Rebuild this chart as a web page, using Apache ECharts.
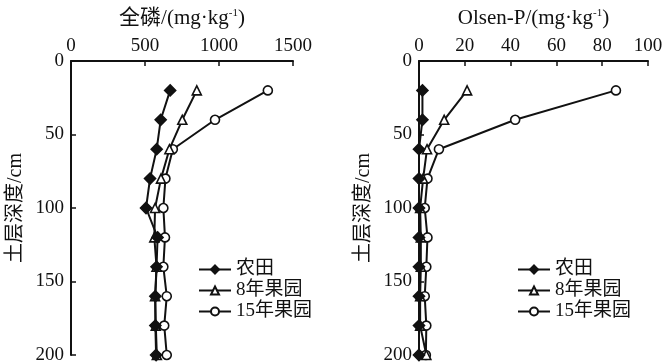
<!DOCTYPE html>
<html>
<head>
<meta charset="utf-8">
<script src="https://cdn.jsdelivr.net/npm/echarts@6/dist/echarts.min.js"></script>
<style>
  html, body { margin: 0; padding: 0; background: #fff; }
  #main { width: 664px; height: 364px; }
</style>
</head>
<body>
<div id="main"></div>
<script>
// soil depth (cm)
var depths = [20, 40, 60, 80, 100, 120, 140, 160, 180, 200];
var seriesNames = ["农田", "8年果园", "15年果园"];

// total P (mg/kg)
var totalP_farm = [670, 606, 579, 534, 507, 585, 578, 570, 570, 575];
var totalP_8yr = [850, 752, 665, 608, 568, 563, 578, 568, 573, 580];
var totalP_15yr = [1330, 973, 688, 638, 624, 635, 624, 647, 630, 647];

// Olsen-P (mg/kg)
var olsen_farm = [1.5, 1.5, 0, 0, 0, 0, 0, 0, 0, 0];
var olsen_8yr = [21, 11, 3.5, 1.8, 0.5, 0.8, 0.8, 0.5, 0.5, 3.2];
var olsen_15yr = [86, 42, 8.7, 3.7, 2.5, 3.7, 3.2, 2.5, 3.2, 3.0];

var font = "Liberation Serif, 'Noto Sans CJK SC'";
var ink = "#111";

function pairs(vals) {
  return vals.map(function (v, i) { return [v, depths[i]]; });
}

var markers = [
  { symbol: "diamond", size: 11, fill: ink },
  { symbol: "triangle", size: 9, fill: "#fff" },
  { symbol: "circle", size: 9, fill: "#fff" },
];

function mkSeries(vals, k, idx) {
  return {
    name: seriesNames[k],
    type: "line",
    xAxisIndex: idx,
    yAxisIndex: idx,
    data: pairs(vals),
    symbol: markers[k].symbol,
    symbolSize: markers[k].size,
    lineStyle: { color: ink, width: 2 },
    itemStyle: { color: markers[k].fill, borderColor: ink, borderWidth: 1.6 },
    z: 3 - k,
    animation: false,
  };
}

function xAxis(idx, name, max, interval) {
  return {
    gridIndex: idx,
    type: "value",
    position: "top",
    min: 0,
    max: max,
    interval: interval,
    name: name,
    nameLocation: "middle",
    nameGap: 32,
    nameMoveOverlap: false,
    nameTextStyle: {
      fontFamily: font, fontSize: 21, color: ink,
      rich: { sup: { fontFamily: font, fontSize: 11, color: ink, verticalAlign: "top", padding: [0, 0, 9, 0] } },
    },
    axisLine: { show: true, lineStyle: { color: ink, width: 2 } },
    axisTick: { show: true, inside: true, length: 5, lineStyle: { color: ink, width: 1.5 } },
    axisLabel: { fontFamily: font, fontSize: 19, color: ink, margin: 5, formatter: function (v) { return String(v); } },
    splitLine: { show: false },
  };
}

function yAxis(idx) {
  return {
    gridIndex: idx,
    type: "value",
    inverse: true,
    min: 0,
    max: 200,
    interval: 50,
    name: "土层深度/cm",
    nameLocation: "middle",
    nameGap: 45,
    nameMoveOverlap: false,
    nameTextStyle: { fontFamily: font, fontSize: 20, color: ink },
    axisLine: { show: true, lineStyle: { color: ink, width: 2 } },
    axisTick: { show: true, inside: true, length: 5, lineStyle: { color: ink, width: 1.5 } },
    axisLabel: { fontFamily: font, fontSize: 19, color: ink, margin: 7 },
    splitLine: { show: false },
  };
}

function legend(left, top) {
  return {
    orient: "vertical",
    left: left,
    top: top,
    padding: 0,
    itemWidth: 32,
    itemHeight: 10,
    itemGap: 2,
    data: seriesNames,
    textStyle: { fontFamily: font, fontSize: 19, color: ink },
  };
}

var chart = echarts.init(document.getElementById("main"));
chart.setOption({
  backgroundColor: "#fff",
  animation: false,
  grid: [
    { left: 71, top: 61, width: 222, height: 294, outerBoundsMode: "none" },
    { left: 419, top: 61, width: 229, height: 294, outerBoundsMode: "none" },
  ],
  xAxis: [
    xAxis(0, "全磷/(mg·kg{sup|-1})", 1500, 500),
    xAxis(1, "Olsen-P/(mg·kg{sup|-1})", 100, 20),
  ],
  yAxis: [yAxis(0), yAxis(1)],
  legend: [legend(198, 260), legend(517, 260)],
  series: [
    mkSeries(totalP_farm, 0, 0),
    mkSeries(totalP_8yr, 1, 0),
    mkSeries(totalP_15yr, 2, 0),
    mkSeries(olsen_farm, 0, 1),
    mkSeries(olsen_8yr, 1, 1),
    mkSeries(olsen_15yr, 2, 1),
  ],
});
</script>
</body>
</html>
